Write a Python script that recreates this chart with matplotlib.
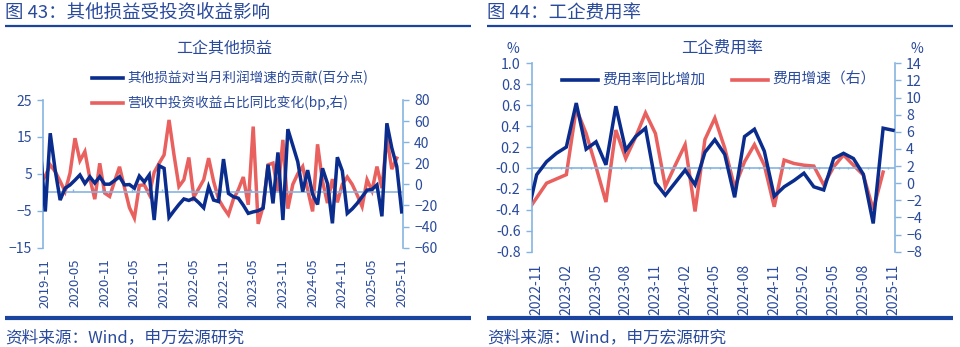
import matplotlib
matplotlib.use("Agg")
import matplotlib.pyplot as plt
from matplotlib.lines import Line2D
import numpy as np
import pandas as pd

plt.rcParams['font.family'] = ['Noto Sans CJK SC', 'DejaVu Sans']

# ---------------- data: left chart (monthly, 2019-10 .. 2025-11) ----------------
left_months = pd.period_range('2019-10', '2025-11', freq='M').strftime('%Y-%m').tolist()
other_gain_contrib = [11.8, -5.2, 16, 6, -2.1, 1.1, 2, 3.3, 4.7, 2.4, 4.2, 2.5, 4.2, 2.2, 2.2,
                      3.2, 4.2, 2, 2.1, 1.1, 4.4, 2.8, 4.7, -7.5, 7.2, 6.5, -6.8, -5, -3.3,
                      -1.8, -2.2, -1.6, -2.8, -4.2, 1.5, -2.1, -2.5, 9.0, -0.3, -1.2, -1.6,
                      -3.5, -5.7, -5.3, -5.0, -4.3, 7.5, -3, 10.8, -7.5, 17.1, 12.7, 8.3, 0.2,
                      6, -0.5, -3.3, 6.5, 2.4, -8.4, 9.5, 5.8, -5.7, -4.5, -3, -1.2, 0.6, 0.8,
                      2, -6.5, 18.7, 12, 7, -5.3]
invest_share_chg = [1, 8, 18.5, 12.2, 3, -6.7, 10.7, 43.8, 22.5, 31.1, 6, -14, 20, -8.2, -11.4,
                    3, 16.7, -3, -22, -31.9, -1, -0.4, -9.5, 11.5, 20, 28, 61.1, 28, -2, 4.4,
                    25.5, -12, -4, 4.4, 24.9, 3, -14, -22, -28.8, -14, -5, 7, -19.3, 54.8,
                    -37.4, -20.9, 18.5, 20.2, -6.7, 42.2, -23, 0, 10, 16.9, -5, -25.6, 38, 3,
                    -17.7, 5, -17, 0, 7, 0, -10, -21, 4.4, -6, 16.9, -3.5, 43.8, 14.5, 24.9]
left_tick_labels = ['2019-11', '2020-05', '2020-11', '2021-05', '2021-11', '2022-05', '2022-11',
                    '2023-05', '2023-11', '2024-05', '2024-11', '2025-05', '2025-11']

# ---------------- data: right chart (monthly, 2022-10 .. 2025-11) ----------------
right_months = pd.period_range('2022-10', '2025-11', freq='M').strftime('%Y-%m').tolist()
exp_rate_chg = [-0.48, -0.065, 0.06, 0.14, 0.2, 0.62, 0.18, 0.25, 0.03, 0.59, 0.17, 0.3, 0.38,
                -0.14, -0.26, -0.14, -0.02, -0.16, 0.15, 0.27, 0.13, -0.28, 0.3, 0.37, 0.16,
                -0.27, -0.18, -0.12, -0.05, -0.18, -0.21, 0.09, 0.14, 0.09, -0.06, -0.53, 0.38, 0.36]
exp_growth = [-3.4, -1.7, 0, 0.5, 1.0, 8.7, 5.8, 1.9, -2.2, 6.2, 2.9, 5.4, 8.2, 5.8, -0.4, 2.1,
              4.5, -3.3, 5.1, 7.6, 4.1, -0.5, 2.5, 4.5, 2.1, -2.75, 2.7, 2.3, 2.1, 2.0, -0.2,
              1.9, 3.3, 2.1, 0.96, -3.1, 1.3]
right_tick_labels = ['2022-11', '2023-02', '2023-05', '2023-08', '2023-11', '2024-02', '2024-05',
                     '2024-08', '2024-11', '2025-02', '2025-05', '2025-08', '2025-11']

# ---------------- styling ----------------
W, H = 960, 347
NAVY = '#0A2C8C'
RED = '#E8615F'
TXT = '#2A4A9C'
SPINE = '#86B4E0'
RULE = '#1A449E'

fig = plt.figure(figsize=(W / 100, H / 100), dpi=100)
fig.patch.set_facecolor('white')


def box(x0, y0, x1, y1):
    return [x0 / W, 1 - y1 / H, (x1 - x0) / W, (y1 - y0) / H]


def ftext(x, y, s, **kw):
    fig.text(x / W, 1 - y / H, s, **kw)


def hline(x0, x1, y, lw, color):
    fig.add_artist(Line2D([x0 / W, x1 / W], [1 - y / H, 1 - y / H], transform=fig.transFigure,
                          color=color, lw=lw, solid_capstyle='butt'))


def style_axis(ax, side):
    for s in ax.spines.values():
        s.set_visible(False)
    ax.spines[side].set_visible(True)
    ax.spines[side].set_color(SPINE)
    ax.spines[side].set_linewidth(1.2)
    ax.tick_params(axis='y', which='both', colors=SPINE, labelcolor=TXT, length=4, width=1.0,
                   direction='out', pad=4)
    ax.set_facecolor('none')


# ================= LEFT CHART =================
ftext(5, 13, '图 43：其他损益受投资收益影响', fontsize=13.3, color=TXT, va='center', ha='left')
hline(5, 471, 26, 1.6, RULE)
ftext(224, 48, '工企其他损益', fontsize=11.5, color=TXT, va='center', ha='center')

axL = fig.add_axes(box(43, 100, 403, 247.7))
axLr = axL.twinx()
xl = np.arange(-1, len(other_gain_contrib) - 1)
xr = np.arange(-1, len(invest_share_chg) - 1)
axL.set_xlim(-0.46, 72.26)
axL.set_ylim(-15, 25)
axL.set_yticks([-15, -5, 5, 15, 25])
axLr.set_ylim(-60, 80)
axLr.set_yticks(np.arange(-60, 81, 20))
style_axis(axL, 'left')
style_axis(axLr, 'right')
axL.tick_params(axis='y', labelsize=10)
axLr.tick_params(axis='y', labelsize=10)
axL.axhline(0, color=SPINE, lw=1.2, zorder=1)
axL.vlines(np.arange(5.5, 72, 6), 0, 0.9, color=SPINE, lw=1.0, zorder=1)
axL.set_xticks(np.arange(0, 73, 6))
axL.set_xticklabels(left_tick_labels, rotation=90, fontsize=9.5, color=TXT)
axL.tick_params(axis='x', length=0, pad=8)
axLr.tick_params(axis='x', length=0)
axL.plot(xl, other_gain_contrib, color=NAVY, lw=2.5, zorder=4, solid_joinstyle='miter')
axLr.plot(xr, invest_share_chg, color=RED, lw=2.5, zorder=3, solid_joinstyle='miter')
axL.set_zorder(axLr.get_zorder() + 1)
axL.patch.set_visible(False)

# legend (two rows)
for yy, col, lab in [(78, NAVY, '其他损益对当月利润增速的贡献(百分点)'),
                     (103, RED, '营收中投资收益占比同比变化(bp,右)')]:
    fig.add_artist(Line2D([92 / W, 123 / W], [1 - yy / H] * 2, transform=fig.transFigure,
                          color=col, lw=2.6))
    ftext(127, yy, lab, fontsize=9.8, color=TXT, va='center', ha='left')

hline(5, 471, 318, 3, RULE)
ftext(5, 338, '资料来源：Wind，申万宏源研究', fontsize=12, color=TXT, va='center', ha='left')

# ================= RIGHT CHART =================
ftext(487, 13, '图 44：工企费用率', fontsize=13.3, color=TXT, va='center', ha='left')
hline(487, 953, 26, 1.6, RULE)
ftext(722, 48, '工企费用率', fontsize=11.8, color=TXT, va='center', ha='center')
ftext(513, 49, '%', fontsize=10, color=TXT, va='center', ha='center')
ftext(917, 49, '%', fontsize=10, color=TXT, va='center', ha='center')

axR = fig.add_axes(box(531.7, 63.3, 895, 251.7))
axRr = axR.twinx()
xb = np.arange(-1, len(exp_rate_chg) - 1)
xg = np.arange(-1, len(exp_growth) - 1)
axR.set_xlim(-0.5, 36.2)
axR.set_ylim(-0.8, 1.0)
axR.set_yticks(np.round(np.arange(-0.8, 1.01, 0.2), 1))
axR.yaxis.set_major_formatter(matplotlib.ticker.FormatStrFormatter('%.1f'))
axRr.set_ylim(-8, 14)
axRr.set_yticks(np.arange(-8, 15, 2))
style_axis(axR, 'left')
style_axis(axRr, 'right')
axR.tick_params(axis='y', labelsize=10.3)
axRr.tick_params(axis='y', labelsize=10.3)
axR.axhline(0, color=SPINE, lw=1.2, zorder=1)
axR.vlines(np.arange(0.5, 36, 1), -0.012, 0.012, color=SPINE, lw=1.0, zorder=1)
axR.set_xticks(np.arange(0, 37, 3))
axR.set_xticklabels(right_tick_labels, rotation=90, fontsize=10, color=TXT)
axR.tick_params(axis='x', length=0, pad=9)
axRr.tick_params(axis='x', length=0)
axR.plot(xb, exp_rate_chg, color=NAVY, lw=2.5, zorder=4, solid_joinstyle='miter')
axRr.plot(xg, exp_growth, color=RED, lw=2.5, zorder=3, solid_joinstyle='miter')
axR.set_zorder(axRr.get_zorder() + 1)
axR.patch.set_visible(False)

for x0, col, lab in [(562, NAVY, '费用率同比增加'), (732, RED, '费用增速（右）')]:
    fig.add_artist(Line2D([x0 / W, (x0 + 36) / W], [1 - 80 / H] * 2, transform=fig.transFigure,
                          color=col, lw=2.6))
    ftext(x0 + 40, 80, lab, fontsize=10.6, color=TXT, va='center', ha='left')

hline(487, 953, 318, 3, RULE)
ftext(487, 338, '资料来源：Wind，申万宏源研究', fontsize=12, color=TXT, va='center', ha='left')

fig.savefig('out.png', dpi=100, facecolor='white')
